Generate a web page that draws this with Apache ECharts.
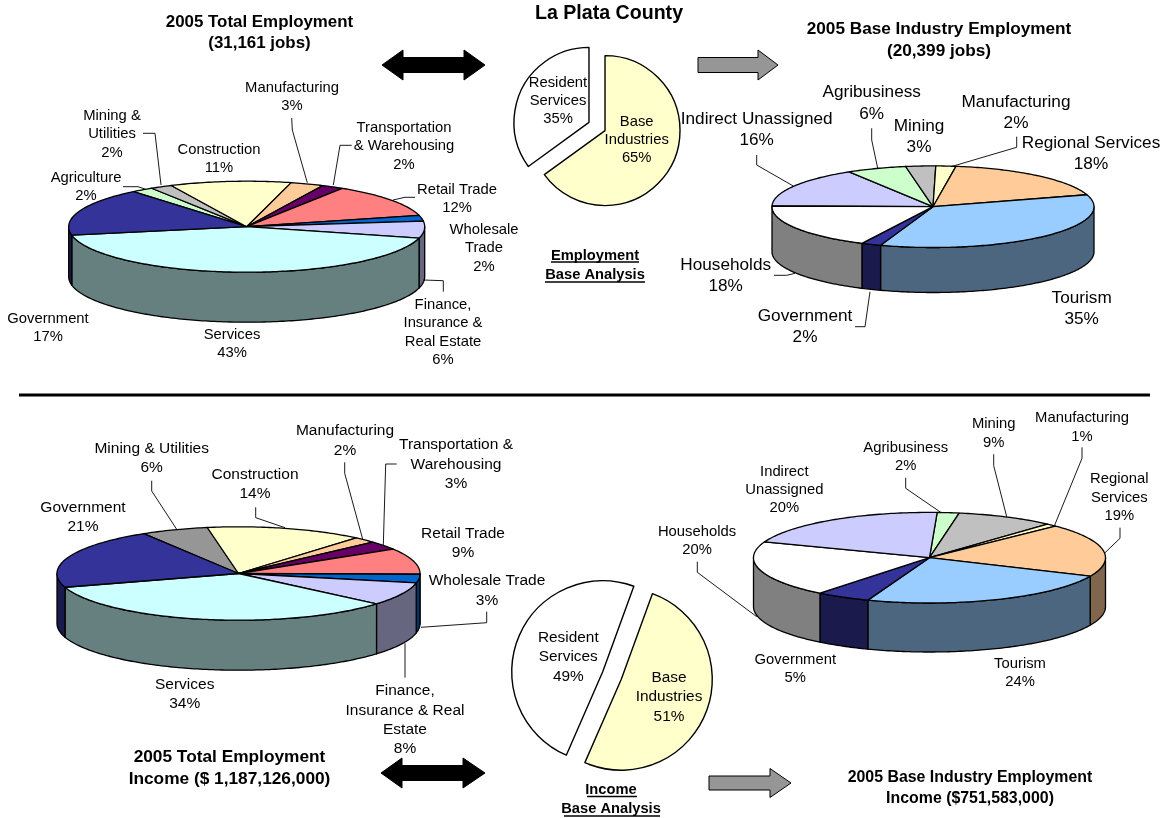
<!DOCTYPE html>
<html>
<head>
<meta charset="utf-8">
<title>La Plata County</title>
<style>
  html, body { margin: 0; padding: 0; background: #fff; }
  #main { width: 1167px; height: 818px; }
</style>
<script src="https://cdn.jsdelivr.net/npm/echarts@6/dist/echarts.min.js"></script>
</head>
<body>
<div id="main"></div>
<script>
// ---- Data: shares in percent, as stated on each slice ----
const jobsNames = ['Agriculture', 'Mining &\nUtilities', 'Construction', 'Manufacturing', 'Transportation\n& Warehousing', 'Retail Trade', 'Wholesale\nTrade', 'Finance,\nInsurance &\nReal Estate', 'Services', 'Government'];
const jobsShares = [2, 2, 11, 3, 2, 12, 2, 6, 43, 17];

const baseJobsNames = ['Indirect Unassigned', 'Agribusiness', 'Mining', 'Manufacturing', 'Regional Services', 'Tourism', 'Government', 'Households'];
const baseJobsShares = [16, 6, 3, 2, 18, 35, 2, 18];

const incomeNames = ['Mining & Utilities', 'Construction', 'Manufacturing', 'Transportation &\nWarehousing', 'Retail Trade', 'Wholesale Trade', 'Finance,\nInsurance & Real\nEstate', 'Services', 'Government'];
const incomeShares = [6, 14, 2, 3, 9, 3, 8, 34, 21];

const baseIncomeNames = ['Agribusiness', 'Mining', 'Manufacturing', 'Regional\nServices', 'Tourism', 'Government', 'Households', 'Indirect\nUnassigned'];
const baseIncomeShares = [2, 9, 1, 19, 24, 5, 20, 20];

const analysisNames = ['Base\nIndustries', 'Resident\nServices'];
const jobsAnalysisShares = [65, 35];
const incomeAnalysisShares = [51, 49];

// ---- Slice colours ----
const jobsColors = ['#CCFFCC', '#C0C0C0', '#FFFFCC', '#FFCC99', '#660066', '#FF8080', '#0066CC', '#CCCCFF', '#CCFFFF', '#333399'];
const baseJobsColors = ['#CCCCFF', '#CCFFCC', '#C0C0C0', '#FFFFCC', '#FFCC99', '#99CCFF', '#333399', '#FFFFFF'];
const incomeColors = ['#969696', '#FFFFCC', '#FFCC99', '#660066', '#FF8080', '#0066CC', '#CCCCFF', '#CCFFFF', '#333399'];
const baseIncomeColors = ['#CCFFCC', '#C0C0C0', '#FFFFCC', '#FFCC99', '#99CCFF', '#333399', '#FFFFFF', '#CCCCFF'];

// ---- Layout of the tilted pies: centre, radii, wall depth, first-slice angle ----
const FONT = '"Liberation Sans", Arial, sans-serif';
const tiltedPies = [
  { names: jobsNames, shares: jobsShares, colors: jobsColors, cx: 246.7, cy: 226.7, rx: 178, ry: 45.5, depth: 50, start: 320.5, fontSize: 14.8, lineHeight: 18.3,
    labels: [[86, 177], [112, 115], [219, 149], [292, 87], [404, 127], [457, 189], [484, 229], [443, 304], [232, 334], [48, 318]] },
  { names: baseJobsNames, shares: baseJobsShares, colors: baseJobsColors, cx: 933, cy: 206.7, rx: 161, ry: 40.8, depth: 45, start: 271, fontSize: 17.2, lineHeight: 21.7,
    labels: [[756.7, 118], [871.7, 91.3], [919, 125], [1016, 101], [1091, 142], [1081.7, 297], [805, 315], [725.7, 264]] },
  { names: incomeNames, shares: incomeShares, colors: incomeColors, cx: 238.5, cy: 573.5, rx: 181.5, ry: 46.7, depth: 50, start: 328.5, fontSize: 15.5, lineHeight: 19.4,
    labels: [[151.7, 447.7], [255, 473.7], [345, 430], [456, 444], [463, 532.7], [487, 580], [405, 690], [184.7, 683.7], [83, 506.7]] },
  { names: baseIncomeNames, shares: baseIncomeShares, colors: baseIncomeColors, cx: 929.5, cy: 557.7, rx: 176, ry: 45.3, depth: 49, start: 2.5, fontSize: 14.8, lineHeight: 18.2,
    labels: [[905.7, 447], [993.7, 423.3], [1082, 417.3], [1119.3, 478.3], [1020, 663], [795.3, 659], [697, 531], [784.3, 471]] }
];

// ---- Leader lines from labels to slices ----
const leaderLines = [
  [[143, 133.3], [155, 133.3], [161, 185]],
  [[123, 186.7], [138, 186.7], [145, 189]],
  [[291.7, 118], [292.3, 130], [307.3, 182.7]],
  [[351.7, 145.3], [340, 145.3], [333.3, 185]],
  [[415, 197.3], [405, 197.3], [393, 200]],
  [[443.3, 291.7], [443.3, 280.7], [423.3, 280]],
  [[756.7, 155], [756.7, 165], [793.3, 186]],
  [[871.7, 128.3], [871.7, 140], [877.7, 168.3]],
  [[1016.7, 136.7], [1016.7, 147.3], [951, 166.7]],
  [[774, 275.3], [786.7, 275.3], [795, 273.3]],
  [[855, 326.7], [865, 326.7], [870, 291.7]],
  [[151.7, 480.7], [151.7, 491], [176.7, 529.3]],
  [[255.7, 507.3], [255.7, 517.7], [285, 527.7]],
  [[344.7, 462.3], [344.7, 473.3], [362.7, 539.3]],
  [[396.7, 464], [385.7, 464], [383.3, 545]],
  [[486.7, 611.7], [486.7, 622.7], [421, 627.3]],
  [[405, 643.3], [405, 677.7]],
  [[905.7, 477.7], [905.7, 488.3], [940.7, 512.3]],
  [[993.7, 454.3], [993.7, 465.7], [1006.7, 516.7]],
  [[1082, 447.3], [1082, 458.3], [1054.3, 526]],
  [[1120, 527.7], [1120, 538.3], [1105, 552.7]],
  [[697.3, 561.7], [697.3, 572.3], [756.7, 616.7]]
];

// ---- Headings: text, centre x, first line y, size, line height ----
const headings = [
  ['La Plata County', 609, 13, 19.6, 22],
  ['2005 Total Employment\n(31,161 jobs)', 259.5, 21, 16.9, 21.5],
  ['2005 Base Industry Employment\n(20,399 jobs)', 939, 28, 17.2, 22],
  ['Employment\nBase Analysis', 595, 255, 14.7, 19],
  ['2005 Total Employment\nIncome ($ 1,187,126,000)', 229.5, 756, 17.3, 22],
  ['2005 Base Industry Employment\nIncome ($751,583,000)', 970, 777, 15.9, 20.5],
  ['Income\nBase Analysis', 611, 789, 14.7, 19]
];
const underlines = [
  [551, 639, 262], [545, 645, 282], [587, 637, 796.5], [564, 660, 816]
];

// ---- Block arrows: left end, head start, tip, centre y, half heights ----
const doubleArrows = [
  [382, 403, 464, 485, 65, 7.5, 15],
  [381, 402, 463, 485, 773, 7.5, 15]
];
const grayArrows = [
  [698, 758, 778, 65, 7.5, 15],
  [709, 770, 791, 783, 7, 14.5]
];

const RAD = Math.PI / 180;
const darken = c => {
  const n = parseInt(c.slice(1), 16);
  const half = v => Math.round(v / 2);
  return `rgb(${half(n >> 16)},${half((n >> 8) & 255)},${half(n & 255)})`;
};

// Point on the tilted rim, angle measured clockwise from the far side.
const rim = (p, deg, dy) => [p.cx + p.rx * Math.sin(deg * RAD), p.cy - p.ry * Math.cos(deg * RAD) + dy];

function arc(p, from, to, dy) {
  const pts = [];
  const steps = Math.max(1, Math.ceil(Math.abs(to - from)));
  for (let i = 0; i <= steps; i++) pts.push(rim(p, from + (to - from) * i / steps, dy));
  return pts;
}

// Front wall ranges of a slice: only angles between 90 and 270 face the viewer.
function wallRanges(a, b) {
  const out = [];
  for (const off of [0, 360]) {
    const lo = Math.max(a, 90 + off), hi = Math.min(b, 270 + off);
    if (hi > lo) out.push([lo, hi]);
  }
  return out;
}

function tiltedSeries(p) {
  const total = p.shares.reduce((s, v) => s + v, 0);
  return {
    type: 'custom',
    coordinateSystem: 'none',
    silent: true,
    animation: false,
    data: p.shares.map(v => [v]),
    renderItem(params, api) {
      let before = 0;
      for (let i = 0; i < params.dataIndex; i++) before += p.shares[i];
      const a = p.start + before / total * 360;
      const b = a + api.value(0) / total * 360;
      const norm = a >= 360 ? 360 : 0;
      const color = p.colors[params.dataIndex];
      const border = { stroke: '#000', lineWidth: 1.3, lineJoin: 'round' };
      const children = [];
      wallRanges(a - norm, b - norm).forEach(([lo, hi]) => {
        const pts = arc(p, lo, hi, 0).concat(arc(p, hi, lo, p.depth));
        children.push({ type: 'polygon', shape: { points: pts }, style: { fill: darken(color), ...border } });
      });
      const top = [[p.cx, p.cy]].concat(arc(p, a, b, 0));
      children.push({ type: 'polygon', z2: 10, shape: { points: top }, style: { fill: color, ...border } });
      return { type: 'group', children };
    }
  };
}

// Flat exploded pies in the middle of the page.
function flatSeries(shares, center, radius, startAngle, offset) {
  return {
    type: 'pie',
    silent: true,
    animation: false,
    center,
    radius,
    startAngle,
    clockwise: true,
    selectedMode: 'multiple',
    selectedOffset: offset,
    label: { show: false },
    labelLine: { show: false },
    itemStyle: { borderColor: '#000', borderWidth: 1.4 },
    select: { itemStyle: { borderColor: '#000', borderWidth: 1.4 } },
    data: [
      { name: analysisNames[0], value: shares[0], selected: true, itemStyle: { color: '#FFFFCC' }, select: { itemStyle: { color: '#FFFFCC' } } },
      { name: analysisNames[1], value: shares[1], selected: true, itemStyle: { color: '#FFFFFF' }, select: { itemStyle: { color: '#FFFFFF' } } }
    ]
  };
}

const flatLabels = [
  { shares: jobsAnalysisShares, size: 14.8, lh: 18.2, at: [[636.7, 121], [558, 81.7]] },
  { shares: incomeAnalysisShares, size: 15.4, lh: 19.5, at: [[669, 676.7], [568.3, 636.7]] }
];

function textItem(text, x, firstY, size, lh, bold) {
  return {
    type: 'text', z: 100, silent: true,
    style: {
      text, x, y: firstY + 1 - lh / 2, fill: '#000',
      font: `${bold ? 'bold ' : ''}${size}px ${FONT}`,
      textAlign: 'center', textVerticalAlign: 'top', lineHeight: lh
    }
  };
}

const graphics = [];

// Divider between the employment and income rows.
graphics.push({ type: 'line', z: 50, shape: { x1: 19, y1: 395, x2: 1150, y2: 395 }, style: { stroke: '#000', lineWidth: 3 } });

doubleArrows.forEach(([l, h1, h2, r, y, s, w]) => graphics.push({
  type: 'polygon', z: 50,
  shape: { points: [[l, y], [h1, y - w], [h1, y - s], [h2, y - s], [h2, y - w], [r, y], [h2, y + w], [h2, y + s], [h1, y + s], [h1, y + w]] },
  style: { fill: '#000', stroke: '#000', lineWidth: 1 }
}));
grayArrows.forEach(([l, h, r, y, s, w]) => graphics.push({
  type: 'polygon', z: 50,
  shape: { points: [[l, y - s], [h, y - s], [h, y - w], [r, y], [h, y + w], [h, y + s], [l, y + s]] },
  style: { fill: '#969696', stroke: '#000', lineWidth: 1 }
}));

leaderLines.forEach(points => graphics.push({
  type: 'polyline', z: 60, shape: { points }, style: { stroke: '#000', lineWidth: 0.9, fill: null }
}));

tiltedPies.forEach(p => p.names.forEach((name, i) => {
  graphics.push(textItem(`${name}\n${p.shares[i]}%`, p.labels[i][0], p.labels[i][1], p.fontSize, p.lineHeight, false));
}));
flatLabels.forEach(f => analysisNames.forEach((name, i) => {
  graphics.push(textItem(`${name}\n${f.shares[i]}%`, f.at[i][0], f.at[i][1], f.size, f.lh, false));
}));
headings.forEach(([text, x, y, size, lh]) => graphics.push(textItem(text, x, y, size, lh, true)));
underlines.forEach(([x1, x2, y]) => graphics.push({
  type: 'line', z: 100, shape: { x1, y1: y, x2, y2: y }, style: { stroke: '#000', lineWidth: 1.4 }
}));

const chart = echarts.init(document.getElementById('main'));
chart.setOption({
  backgroundColor: '#fff',
  animation: false,
  series: [
    ...tiltedPies.map(tiltedSeries),
    flatSeries(jobsAnalysisShares, [597, 126.5], 75, 90, 9),
    flatSeries(incomeAnalysisShares, [612, 675.5], 91, 70, 10)
  ],
  graphic: { elements: graphics }
});
</script>
</body>
</html>
